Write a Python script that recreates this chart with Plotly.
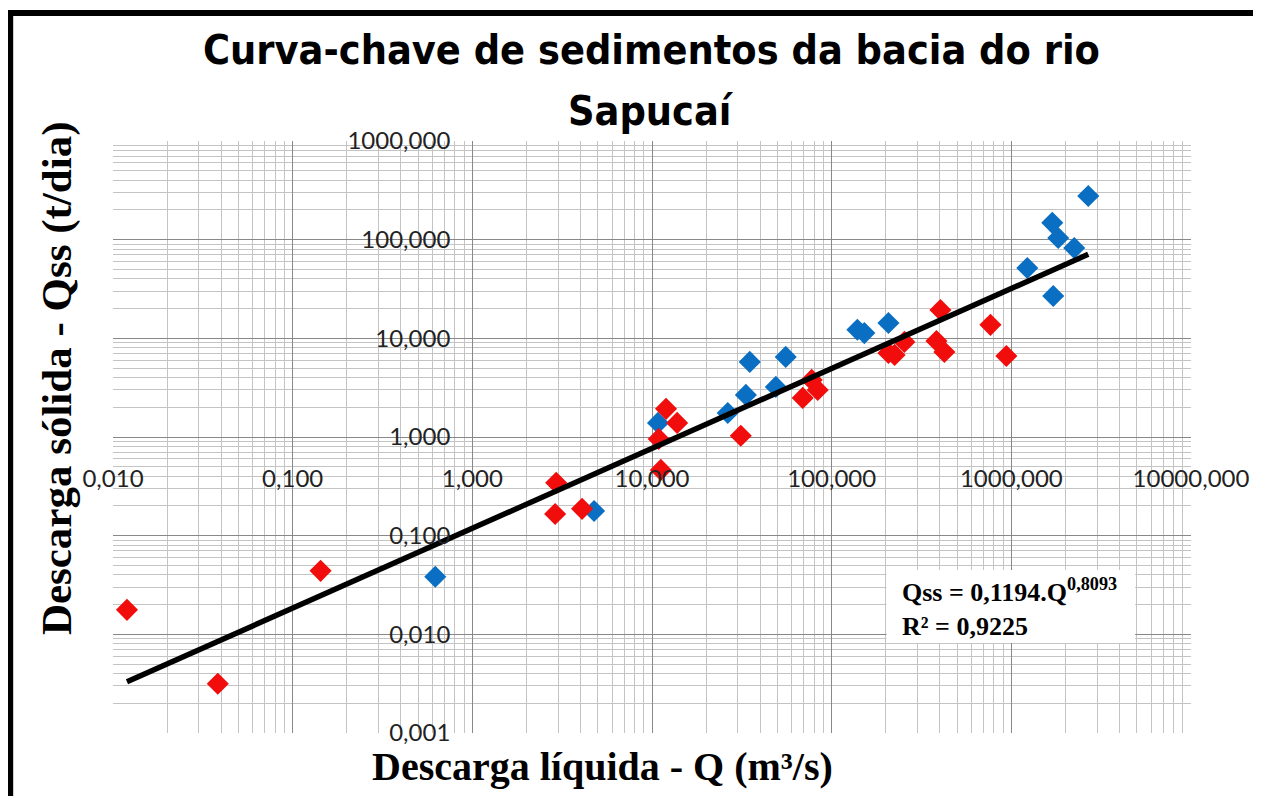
import plotly.graph_objects as go

# ---- data ----
blue_q = [0.622, 4.76, 10.8, 26.4, 33.3, 35.0, 48.9, 55.5, 139, 152, 207,
          1227, 1690, 1711, 1824, 2239, 2680]
blue_qss = [0.0383, 0.178, 1.39, 1.75, 2.67, 5.77, 3.22, 6.48, 12.2, 11.3, 14.3,
            51.7, 148, 26.9, 104, 82.4, 277]

red_q = [0.01196, 0.0383, 0.143, 2.93, 2.89, 4.08, 10.9, 11.2, 11.97, 13.8, 31.2,
         69, 77.4, 83.6, 207, 224, 254, 383, 403, 424, 765, 938]
red_qss = [0.0177, 0.00316, 0.044, 0.343, 0.166, 0.187, 0.957, 0.464, 1.93, 1.39, 1.03,
           2.49, 3.79, 3.0, 7.1, 6.79, 9.2, 9.4, 19.4, 7.28, 13.7, 6.63]

trend_q = [0.01196, 2680]
trend_qss = [0.0033, 71]

title_lines = ["Curva-chave de sedimentos da bacia do rio", "Sapucaí"]
x_title = "Descarga líquida - Q (m³/s)"
y_title = "Descarga sólida - Qss (t/dia)"
eq_text = "Qss = 0,1194.Q<sup>0,8093</sup><br>R² = 0,9225"

# page body has an 8px margin: work in reference pixels, shift by OFF
OFF = 8
W, H = 1261 - OFF, 796 - OFF
X0, X1 = 113, 1193      # plot area in reference pixels
Y0, Y1 = 141, 733
L, T = X0 - OFF, Y0 - OFF
R, B = W - (X1 - OFF), H - (Y1 - OFF)
PW, PH = X1 - X0, Y1 - Y0


def px(xr):
    return (xr - X0) / PW


def py(yr):
    return (Y1 - yr) / PH


fig = go.Figure()
fig.add_trace(go.Scatter(x=blue_q, y=blue_qss, mode="markers",
                         marker=dict(symbol="diamond", size=17, color="#0A6FC2"),
                         showlegend=False))
fig.add_trace(go.Scatter(x=red_q, y=red_qss, mode="markers",
                         marker=dict(symbol="diamond", size=17, color="#F20D0D"),
                         showlegend=False))
fig.add_trace(go.Scatter(x=trend_q, y=trend_qss, mode="lines",
                         line=dict(color="black", width=5.5), showlegend=False))

tickfont = dict(family="Lato, Liberation Sans, sans-serif", size=24, color="#222")
axis_common = dict(type="log", dtick=1, tickformat=".3f", showline=False,
                   ticks="", gridcolor="#888888", gridwidth=1, zeroline=False,
                   tickfont=tickfont,
                   minor=dict(showgrid=True, gridcolor="#c4c4c4", gridwidth=1,
                              dtick="D1", ticks=""))

fig.update_xaxes(range=[-2, 4], anchor="free", position=0.5,
                 ticklabelstandoff=25, **axis_common)
fig.update_yaxes(range=[-3, 3], anchor="free", position=1 / 3,
                 ticklabelstandoff=22, **axis_common)

serif = "Liberation Serif, Times New Roman, serif"
title_font = dict(family="DejaVu Sans Condensed, sans-serif", size=41,
                  color="black", weight="bold")
annotations = [
    dict(text=title_lines[0], xref="paper", yref="paper", x=px(652), y=py(50),
         xanchor="center", yanchor="middle", showarrow=False, font=title_font),
    dict(text=title_lines[1], xref="paper", yref="paper", x=px(652), y=py(111),
         xanchor="center", yanchor="middle", showarrow=False, font=title_font),
    dict(text=x_title, xref="paper", yref="paper", x=px(603), y=py(766),
         xanchor="center", yanchor="middle", showarrow=False,
         font=dict(family=serif, size=40, color="black", weight="bold")),
    dict(text=y_title, xref="paper", yref="paper", x=px(57), y=py(378),
         xanchor="center", yanchor="middle", showarrow=False, textangle=-90,
         font=dict(family=serif, size=43, color="black", weight="bold")),
    dict(text=eq_text, xref="paper", yref="paper", x=px(901), y=py(607),
         xanchor="left", yanchor="middle", showarrow=False, align="left",
         font=dict(family=serif, size=26, color="black", weight="bold")),
]

fig.update_layout(
    width=W, height=H,
    margin=dict(l=L, r=R, t=T, b=B),
    paper_bgcolor="white", plot_bgcolor="white",
    separators=",.",
    annotations=annotations,
    shapes=[
        dict(type="rect", xref="paper", yref="paper", x0=px(888), x1=px(1137),
             y0=py(643), y1=py(570), fillcolor="white", line=dict(width=0),
             layer="above"),
        dict(type="rect", xref="paper", yref="paper", x0=px(8), x1=px(1275),
             y0=py(16), y1=py(10), fillcolor="black", line=dict(width=0), layer="above"),
        dict(type="rect", xref="paper", yref="paper", x0=px(7), x1=px(13),
             y0=py(805), y1=py(10), fillcolor="black", line=dict(width=0), layer="above"),
    ],
)

fig.write_html("out.html")
